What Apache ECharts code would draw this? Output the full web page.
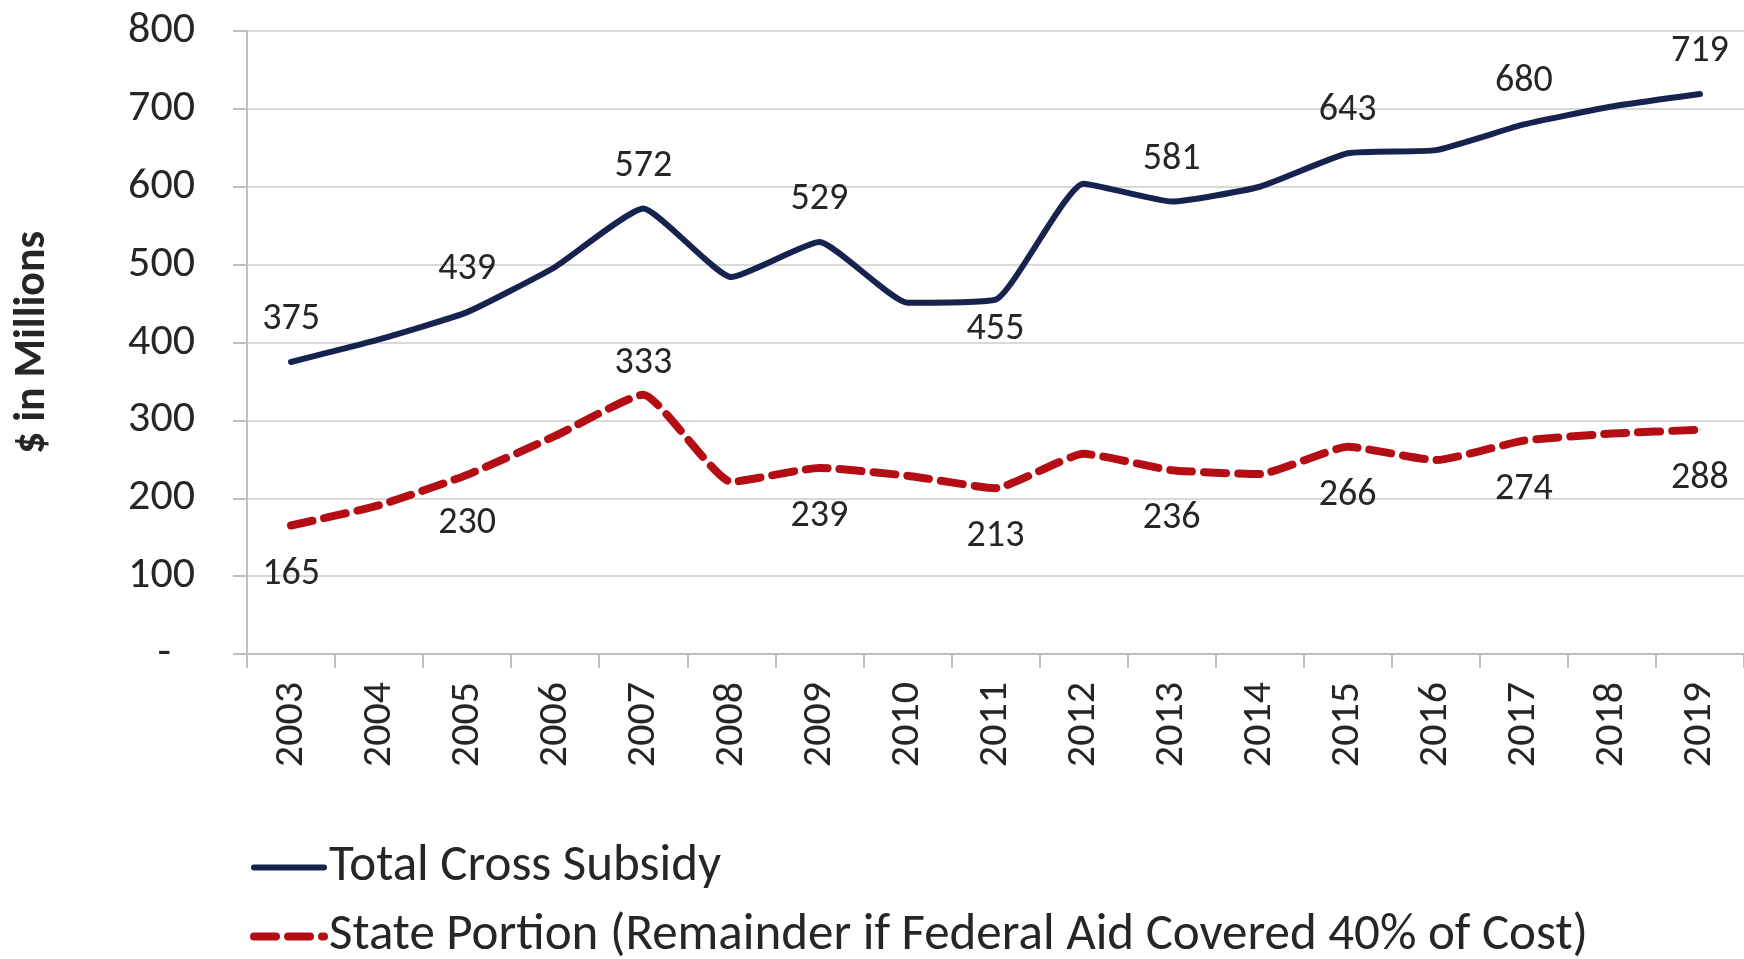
<!DOCTYPE html>
<html>
<head>
<meta charset="utf-8">
<script src="https://cdn.jsdelivr.net/npm/echarts@6/dist/echarts.min.js"></script>
<style>
  html, body { margin: 0; padding: 0; background: #fff; }
  #chart { width: 1744px; height: 959px; }
</style>
</head>
<body>
<div id="chart"></div>
<script>
var years = ["2003", "2004", "2005", "2006", "2007", "2008", "2009", "2010", "2011",
  "2012", "2013", "2014", "2015", "2016", "2017", "2018", "2019"];
var totalSubsidy = [375, 404, 439, 497, 572, 484, 529, 451, 455, 604, 581, 600, 643, 647, 680, 703, 719];
var statePortion = [165, 191, 230, 280, 333, 221, 239, 229, 213, 257, 236, 231, 266, 249, 274, 283, 288];

var font = "Carlito, 'Open Sans', 'Noto Sans', sans-serif";

// labels only on every other year, like the original
function makeData(values, flipIndex, normalPos, normalDist, flipDist) {
  return values.map(function (v, i) {
    var flip = i === flipIndex;
    var pos = flip ? (normalPos === "top" ? "bottom" : "top") : normalPos;
    return {
      value: v,
      label: {
        show: i % 2 === 0,
        position: pos,
        distance: flip ? flipDist : normalDist
      }
    };
  });
}

var dom = document.getElementById("chart");
var myChart = echarts.init(dom, null, { renderer: "canvas" });

var labelStyle = {
  show: false,
  fontFamily: font,
  fontSize: 38,
  lineHeight: 38,
  color: "#262626"
};

var option = {
  animation: false,
  backgroundColor: "#ffffff",
  grid: {
    left: 247,
    right: -2,
    top: 31,
    bottom: 305
  },
  legend: {
    orient: "vertical",
    left: 245,
    top: 837,
    height: 160,
    itemWidth: 70,
    itemHeight: 8,
    itemGap: 18,
    itemStyle: { opacity: 0 },
    textStyle: { fontFamily: font, fontSize: 51, color: "#262626" },
    data: [
      { name: "Total Cross Subsidy", lineStyle: { width: 6 } },
      { name: "State Portion (Remainder if Federal Aid Covered 40% of Cost)", lineStyle: { width: 8 } }
    ]
  },
  xAxis: {
    type: "category",
    data: years,
    boundaryGap: true,
    axisLine: { lineStyle: { color: "#bfbfbf", width: 2 } },
    axisTick: { show: true, interval: 0, length: 14, lineStyle: { color: "#bfbfbf", width: 2 } },
    axisLabel: {
      interval: 0,
      rotate: 90,
      margin: 28,
      fontFamily: font,
      fontSize: 42,
      color: "#262626"
    }
  },
  yAxis: {
    type: "value",
    min: 0,
    max: 800,
    interval: 100,
    name: "$ in Millions",
    nameLocation: "middle",
    nameGap: 192,
    nameTextStyle: { fontFamily: font, fontSize: 44, fontWeight: "bold", color: "#262626" },
    axisLine: { show: true, lineStyle: { color: "#bfbfbf", width: 2 } },
    axisTick: { show: true, length: 14, lineStyle: { color: "#bfbfbf", width: 2 } },
    splitLine: { lineStyle: { color: "#d9d9d9", width: 2 } },
    axisLabel: {
      margin: 52,
      fontFamily: font,
      fontSize: 44,
      color: "#262626",
      formatter: function (v) {
        return v === 0 ? "{dash|-}" : String(v);
      },
      rich: {
        dash: { fontFamily: font, fontSize: 44, color: "#262626", padding: [0, 24, 0, 0] }
      }
    }
  },
  series: [
    {
      name: "Total Cross Subsidy",
      type: "line",
      smooth: 0.15,
      symbol: "circle",
      symbolSize: 1,
      showSymbol: true,
      lineStyle: { color: "#17234f", width: 6, cap: "round", join: "round" },
      itemStyle: { color: "#17234f" },
      label: labelStyle,
      data: makeData(totalSubsidy, 8, "top", 23, 10)
    },
    {
      name: "State Portion (Remainder if Federal Aid Covered 40% of Cost)",
      type: "line",
      smooth: 0.15,
      symbol: "circle",
      symbolSize: 1,
      showSymbol: true,
      lineStyle: { color: "#b50d14", width: 8, type: [22, 12], cap: "round", join: "round" },
      itemStyle: { color: "#b50d14" },
      label: labelStyle,
      data: makeData(statePortion, 4, "bottom", 29, 12)
    }
  ]
};

myChart.setOption(option);
window.addEventListener("resize", myChart.resize);
</script>
</body>
</html>
